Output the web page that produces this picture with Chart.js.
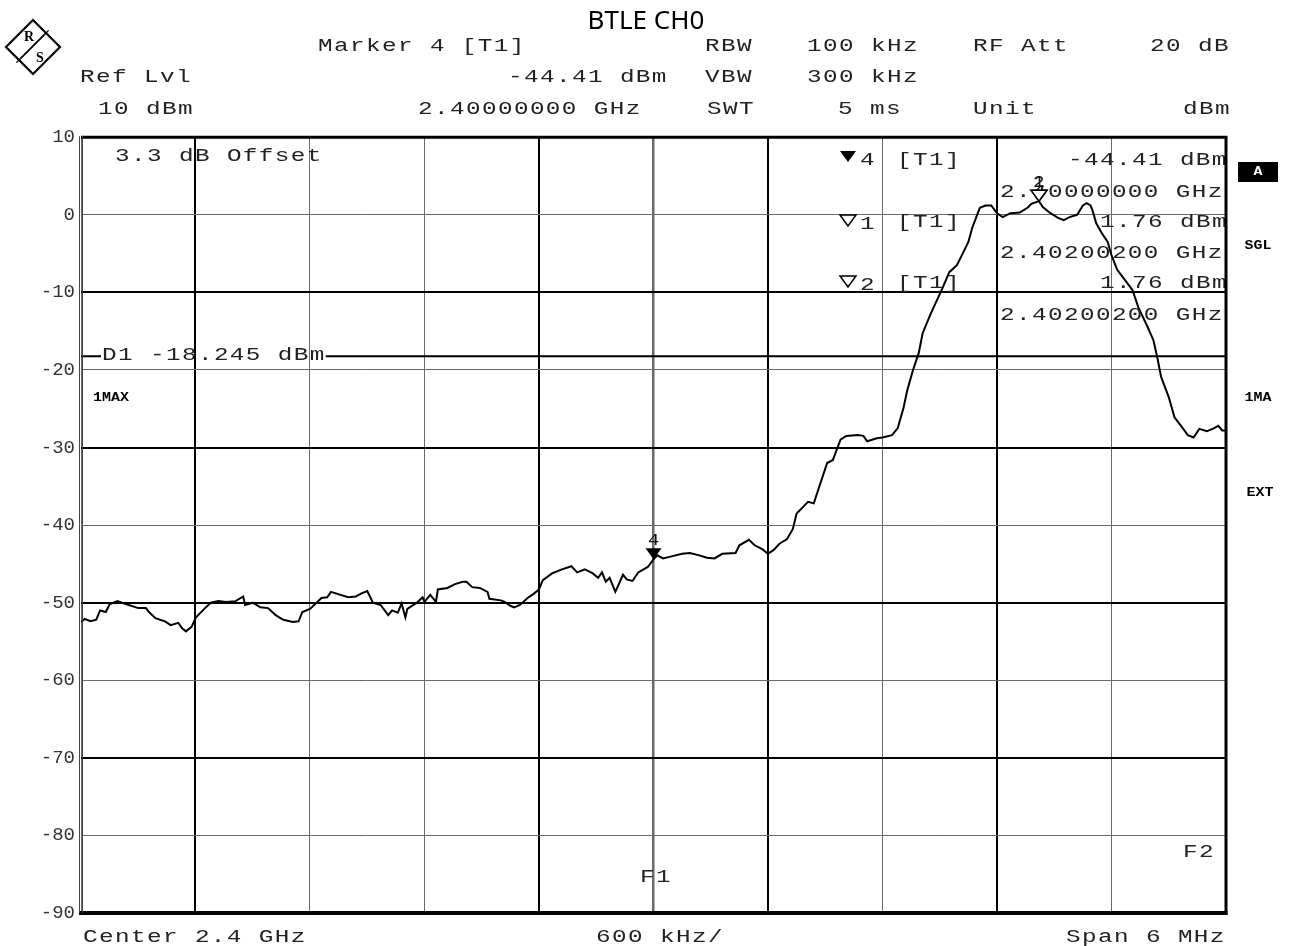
<!DOCTYPE html>
<html>
<head>
<meta charset="utf-8">
<script src="https://cdn.jsdelivr.net/npm/chart.js@4.4.1/dist/chart.umd.min.js"></script>
<style>
  html, body { margin: 0; padding: 0; background: #fff; }
  #wrap { width: 1292px; height: 946px; }
</style>
</head>
<body>
<div id="wrap"><canvas id="spec" width="1292" height="946"></canvas></div>
<script>
// trace 1 (max hold), frequency in MHz, level in dBm
const freqMHz = [
  2397.00, 2397.02, 2397.05, 2397.08, 2397.10, 2397.13, 2397.15, 2397.19, 2397.25, 2397.30,
  2397.34, 2397.36, 2397.39, 2397.44, 2397.47, 2397.51, 2397.53, 2397.55, 2397.58, 2397.60,
  2397.61, 2397.65, 2397.68, 2397.72, 2397.76, 2397.81, 2397.85, 2397.86, 2397.90, 2397.94,
  2397.98, 2398.02, 2398.06, 2398.11, 2398.14, 2398.16, 2398.20, 2398.23, 2398.26, 2398.29,
  2398.31, 2398.36, 2398.40, 2398.44, 2398.47, 2398.50, 2398.53, 2398.57, 2398.61, 2398.63,
  2398.66, 2398.68, 2398.70, 2398.71, 2398.76, 2398.79, 2398.80, 2398.83, 2398.86, 2398.87,
  2398.92, 2398.96, 2399.00, 2399.02, 2399.05, 2399.09, 2399.13, 2399.14, 2399.20, 2399.22,
  2399.25, 2399.27, 2399.30, 2399.34, 2399.37, 2399.40, 2399.42, 2399.47, 2399.52, 2399.57,
  2399.60, 2399.64, 2399.68, 2399.71, 2399.73, 2399.75, 2399.77, 2399.80, 2399.82, 2399.84,
  2399.86, 2399.89, 2399.92, 2399.97, 2400.00, 2400.02, 2400.05, 2400.10, 2400.15, 2400.19,
  2400.24, 2400.28, 2400.32, 2400.36, 2400.43, 2400.45, 2400.50, 2400.53, 2400.57, 2400.60,
  2400.63, 2400.66, 2400.70, 2400.73, 2400.75, 2400.81, 2400.84, 2400.88, 2400.91, 2400.94,
  2400.98, 2401.01, 2401.07, 2401.10, 2401.12, 2401.17, 2401.20, 2401.25, 2401.28, 2401.31,
  2401.33, 2401.36, 2401.39, 2401.41, 2401.45, 2401.48, 2401.51, 2401.55, 2401.59, 2401.62,
  2401.65, 2401.67, 2401.71, 2401.74, 2401.77, 2401.80, 2401.83, 2401.87, 2401.92, 2401.96,
  2401.98, 2402.02, 2402.04, 2402.08, 2402.12, 2402.15, 2402.18, 2402.22, 2402.25, 2402.27,
  2402.29, 2402.30, 2402.32, 2402.35, 2402.38, 2402.40, 2402.43, 2402.47, 2402.51, 2402.54,
  2402.59, 2402.62, 2402.64, 2402.66, 2402.70, 2402.73, 2402.77, 2402.80, 2402.83, 2402.86,
  2402.90, 2402.93, 2402.96, 2402.98, 2403.00
];
const levelDbm = [
  -52.5, -52.1, -52.4, -52.2, -51.0, -51.2, -50.2, -49.8, -50.3, -50.7,
  -50.7, -51.3, -52.0, -52.4, -52.9, -52.6, -53.3, -53.7, -53.1, -52.0,
  -51.7, -50.7, -50.0, -49.8, -49.9, -49.8, -49.2, -50.3, -50.0, -50.6,
  -50.7, -51.6, -52.2, -52.5, -52.4, -51.2, -50.8, -50.1, -49.4, -49.3,
  -48.6, -49.0, -49.3, -49.2, -48.8, -48.5, -50.0, -50.3, -51.6, -51.0,
  -51.3, -50.1, -51.9, -50.8, -50.0, -49.3, -49.9, -49.0, -49.9, -48.3,
  -48.1, -47.6, -47.3, -47.3, -48.0, -48.1, -48.6, -49.5, -49.7, -49.9,
  -50.4, -50.6, -50.3, -49.4, -48.9, -48.3, -47.1, -46.2, -45.7, -45.3,
  -46.1, -45.7, -46.2, -46.8, -46.1, -47.3, -46.8, -48.6, -47.5, -46.4,
  -47.0, -47.2, -46.1, -45.4, -44.41, -43.9, -44.3, -44.0, -43.7, -43.6,
  -43.9, -44.2, -44.3, -43.7, -43.6, -42.6, -41.9, -42.6, -43.1, -43.7,
  -43.2, -42.4, -41.8, -40.5, -38.5, -37.0, -37.2, -34.2, -32.0, -31.6,
  -29.0, -28.5, -28.4, -28.5, -29.2, -28.8, -28.7, -28.4, -27.5, -24.9,
  -22.6, -20.0, -17.8, -15.3, -12.9, -11.3, -9.7, -7.4, -6.5, -5.0,
  -3.5, -1.7, 0.9, 1.2, 1.2, 0.2, -0.3, 0.2, 0.3, 0.9,
  1.4, 1.76, 1.0, 0.2, -0.4, -0.7, -0.3, 0.0, 1.2, 1.5,
  1.2, 0.6, -1.1, -2.4, -3.5, -5.2, -7.1, -8.4, -9.7, -11.9,
  -14.5, -16.2, -18.4, -20.9, -23.5, -26.1, -27.4, -28.4, -28.7, -27.6,
  -27.9, -27.6, -27.2, -27.8, -27.8
];

// markers
const markerNames = ["4", "1", "2"];
const markerFreqs = [2400.00, 2402.02, 2402.02];
const markerLevels = [-44.41, 1.76, 1.76];
const markerFilled = [true, false, false];

// display line D1
const displayLineDbm = -18.245;

// axis settings
const freqStart = 2397, freqStop = 2403, freqDiv = 0.6;
const refLevel = 10, bottomLevel = -90, levelDiv = 10;

const MONO = '"Liberation Mono", "DejaVu Sans Mono", monospace';

// instrument font is a wide courier-ish face, so stretch liberation mono a bit
function monoText(ctx, txt, x, y, opts) {
  opts = opts || {};
  const sx = opts.stretch || 1.35;
  const sp = opts.spacing === undefined ? 1.4 : opts.spacing;
  ctx.save();
  ctx.font = (opts.bold ? 'bold ' : '') + (opts.size || 18) + 'px ' + MONO;
  ctx.letterSpacing = (sp / sx) + 'px';
  ctx.fillStyle = opts.color || '#222';
  ctx.textAlign = opts.align || 'left';
  ctx.textBaseline = 'middle';
  ctx.translate(x, y);
  ctx.scale(sx, 1);
  ctx.fillText(txt, 0, 0);
  const w = ctx.measureText(txt).width * sx;
  ctx.restore();
  return w;
}

function boldLabel(ctx, txt, x, y, color, align) {
  return monoText(ctx, txt, x, y, { bold: true, size: 13, spacing: 0, stretch: 1.15, color: color || '#000', align: align || 'center' });
}

function triangle(ctx, cx, tipY, filled) {
  ctx.beginPath();
  ctx.moveTo(cx, tipY);
  ctx.lineTo(cx - 8, tipY - 11);
  ctx.lineTo(cx + 8, tipY - 11);
  ctx.closePath();
  if (filled) { ctx.fillStyle = '#000'; ctx.fill(); }
  else { ctx.fillStyle = '#fff'; ctx.fill(); ctx.lineWidth = 1.5; ctx.strokeStyle = '#000'; ctx.stroke(); }
}

const analyzerDecor = {
  id: 'analyzerDecor',
  afterDraw(chart) {
    const { ctx, chartArea: a, scales: { x, y } } = chart;
    ctx.save();

    // R&S logo
    ctx.save();
    ctx.strokeStyle = '#000';
    ctx.lineWidth = 2.2;
    ctx.beginPath();
    ctx.moveTo(33, 20); ctx.lineTo(60, 47); ctx.lineTo(33, 74); ctx.lineTo(6, 47); ctx.closePath();
    ctx.stroke();
    ctx.lineWidth = 1.3;
    for (let k = -1; k <= 1; k++) {
      ctx.beginPath();
      ctx.moveTo(46 + k * 2.6, 33 - k * 2.6);
      ctx.lineTo(19 + k * 2.6, 60 - k * 2.6);
      ctx.stroke();
    }
    ctx.font = 'bold 14px "Liberation Serif", serif';
    ctx.fillStyle = '#000';
    ctx.textAlign = 'center'; ctx.textBaseline = 'middle';
    ctx.fillText('R', 29, 37);
    ctx.fillText('S', 40, 58);
    ctx.restore();

    // header block
    monoText(ctx, 'Marker 4 [T1]', 318, 46);
    monoText(ctx, 'RBW', 705, 46);
    monoText(ctx, '100 kHz', 807, 46);
    monoText(ctx, 'RF Att', 973, 46);
    monoText(ctx, '20 dB', 1150, 46);
    monoText(ctx, 'Ref Lvl', 80, 77);
    monoText(ctx, '-44.41 dBm', 508, 77);
    monoText(ctx, 'VBW', 705, 77);
    monoText(ctx, '300 kHz', 807, 77);
    monoText(ctx, '10 dBm', 98, 109);
    monoText(ctx, '2.40000000 GHz', 418, 109);
    monoText(ctx, 'SWT', 707, 109);
    monoText(ctx, '5 ms', 838, 109);
    monoText(ctx, 'Unit', 973, 109);
    monoText(ctx, 'dBm', 1183, 109);

    // footer
    monoText(ctx, 'Center 2.4 GHz', 83, 937);
    monoText(ctx, '600 kHz/', 596, 937);
    monoText(ctx, 'Span 6 MHz', 1066, 937);

    // side annotations
    ctx.fillStyle = '#000';
    ctx.fillRect(1238, 162, 40, 20);
    boldLabel(ctx, 'A', 1258, 172, '#fff');
    boldLabel(ctx, 'SGL', 1258, 246);
    boldLabel(ctx, '1MA', 1258, 398);
    boldLabel(ctx, 'EXT', 1260, 493);

    // everything inside the graticule is clipped to it
    ctx.save();
    ctx.beginPath();
    ctx.rect(a.left, a.top, a.right - a.left, a.bottom - a.top);
    ctx.clip();

    monoText(ctx, '3.3 dB Offset', 115, 156);
    boldLabel(ctx, '1MAX', 93, 398, '#000', 'left');

    // display line D1
    const dY = y.getPixelForValue(displayLineDbm);
    const dW = monoText(ctx, 'D1 -18.245 dBm', 102, dY - 1);
    ctx.strokeStyle = '#000';
    ctx.lineWidth = 2;
    ctx.beginPath();
    ctx.moveTo(a.left, dY); ctx.lineTo(101, dY);
    ctx.moveTo(102 + dW, dY); ctx.lineTo(a.right, dY);
    ctx.stroke();

    // frequency lines labels
    monoText(ctx, 'F1', 640, 877);
    monoText(ctx, 'F2', 1183, 852);

    // marker info table
    triangle(ctx, 848, 162, true);
    monoText(ctx, '4', 860, 160);
    monoText(ctx, '[T1]', 897, 160);
    monoText(ctx, '-44.41 dBm', 1068, 160);
    monoText(ctx, '2.40000000 GHz', 1000, 192);
    triangle(ctx, 848, 226, false);
    monoText(ctx, '1', 860, 224);
    monoText(ctx, '[T1]', 897, 222);
    monoText(ctx, '1.76 dBm', 1100, 222);
    monoText(ctx, '2.40200200 GHz', 1000, 253);
    triangle(ctx, 848, 287, false);
    monoText(ctx, '2', 860, 285);
    monoText(ctx, '[T1]', 897, 283);
    monoText(ctx, '1.76 dBm', 1100, 283);
    monoText(ctx, '2.40200200 GHz', 1000, 315);

    // markers on the trace
    markerNames.forEach((name, i) => {
      const px = x.getPixelForValue(markerFreqs[i]);
      const py = y.getPixelForValue(markerLevels[i]);
      triangle(ctx, px, py, markerFilled[i]);
      monoText(ctx, name, px, py - 19, { spacing: 0, size: 17, stretch: 1.1, align: 'center', color: '#111' });
    });
    ctx.restore();

    // graticule frame
    ctx.strokeStyle = '#000';
    ctx.lineWidth = 3;
    ctx.beginPath();
    ctx.moveTo(a.left, a.top); ctx.lineTo(a.right, a.top);
    ctx.moveTo(a.right, a.top - 1.5); ctx.lineTo(a.right, a.bottom + 2);
    ctx.stroke();
    ctx.lineWidth = 4;
    ctx.beginPath();
    ctx.moveTo(a.left - 2, a.bottom); ctx.lineTo(a.right + 1.5, a.bottom);
    ctx.stroke();
    ctx.strokeStyle = '#444';
    ctx.lineWidth = 1;
    ctx.beginPath();
    ctx.moveTo(a.left - 1.5, a.top - 1); ctx.lineTo(a.left - 1.5, a.bottom);
    ctx.moveTo(a.left + 1.5, a.top - 1); ctx.lineTo(a.left + 1.5, a.bottom);
    ctx.stroke();

    ctx.restore();
  }
};

const boldFreqDivs = [1, 4, 6, 8];
const isBoldLevel = (c) => c.tick && c.tick.value < 0 && Math.abs(c.tick.value) % 20 === 10;

new Chart(document.getElementById('spec'), {
  type: 'line',
  data: {
    datasets: [{
      label: '1MAX',
      data: freqMHz.map((f, i) => ({ x: f, y: levelDbm[i] })),
      borderColor: '#000',
      borderWidth: 2,
      pointRadius: 0,
      tension: 0,
      fill: false
    }]
  },
  options: {
    responsive: false,
    animation: false,
    events: [],
    layout: { padding: 0 },
    plugins: {
      legend: { display: false },
      tooltip: { enabled: false },
      title: {
        display: true,
        text: 'BTLE CH0',
        color: '#000',
        font: { family: '"Noto Sans", "Open Sans", sans-serif', size: 26, weight: 'normal', lineHeight: 1.2 },
        padding: { top: 6, bottom: 100 }
      }
    },
    scales: {
      x: {
        type: 'linear',
        min: freqStart,
        max: freqStop,
        ticks: { display: false, stepSize: freqDiv },
        border: { display: false },
        grid: {
          drawTicks: false,
          color: (c) => boldFreqDivs.includes(c.index) ? '#000' : '#6a6a6a',
          lineWidth: (c) => boldFreqDivs.includes(c.index) ? 2 : (c.index === 5 ? 2.5 : 1)
        },
        afterFit: (s) => { s.height = 33; }
      },
      y: {
        min: bottomLevel,
        max: refLevel,
        ticks: {
          stepSize: levelDiv,
          padding: 6,
          color: '#333',
          font: { family: MONO, size: 19 }
        },
        border: { display: false },
        grid: {
          drawTicks: false,
          color: (c) => isBoldLevel(c) ? '#000' : '#6a6a6a',
          lineWidth: (c) => isBoldLevel(c) ? 2 : 1
        },
        afterFit: (s) => { s.width = 81; }
      },
      // empty strip on the right where the status labels sit
      side: {
        position: 'right',
        min: bottomLevel,
        max: refLevel,
        ticks: { display: false },
        grid: { display: false, drawOnChartArea: false },
        border: { display: false },
        afterFit: (s) => { s.width = 66; }
      }
    }
  },
  plugins: [analyzerDecor]
});
</script>
</body>
</html>
